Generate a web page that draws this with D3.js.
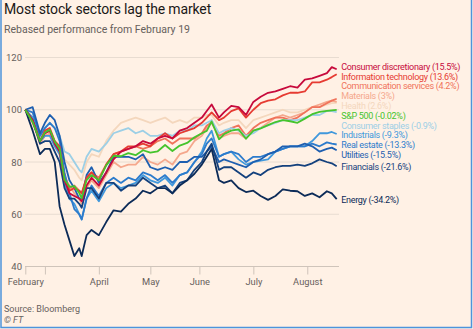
<!DOCTYPE html>
<html>
<head>
<meta charset="utf-8">
<script src="https://cdn.jsdelivr.net/npm/d3@7"></script>
<style>
  body { margin: 0; background: #fff1e5; }
  svg { display: block; font-family: Roboto, sans-serif; }
</style>
</head>
<body>
<svg id="chart"></svg>
<script>
// trading days since Feb 19 (0 = Feb 19, 8 = Mar 2, 30 = Apr 1, ... 127 = Aug 19)
const days = [0,3,6,8,10,12,14,16,18,20,22,23,25,27,30,33,36,39,42,45,48,51,54,57,60,63,66,69,72,74,76,79,81,84,87,90,93,96,99,102,105,108,111,114,117,120,123,125,127]

// rebased values, Feb 19 = 100
const consDisc = [100,96,88,91,92,87,84,73,68,67,66,65,71,74,71,76,81,84,85,86,88,87,89,90,89,92,93,95,97,99.5,102,97,99,101.5,101,98,103,105,106.5,107,108,109,108.5,111.5,112,113,114,116.3,115.5]
const infoTech = [100,96,88,92,93,88,86,73,69,70,69,68,74,76,73,79,83,84,86,86,87,86,89,91,89,91,92,93,95,97,99,96,97,99.5,100.5,97,100,102.5,103.5,104,105.5,106.5,106.5,107,110.5,110.5,111.5,112.5,113.6]
const commServ = [100,95,88,91,92,88,86,75,70,71,69,68,74,76,74,79,83,84,85,86,85,86,88,89,87,89,89,89,91,94,95,90,91,93,94,90,93,95,96,97,97,96,97,99,101,101,102.5,103.5,104.2]
const materials = [100,96,87,90,91,86,83,74,71,68,66,64,70,73,70,75,80,78,79,79,82,80,79,81,79,83,84,88,90,93,96,89,90,91,91,89,92,93,95,97,98,97,98,99,101,102,103,103.5,103]
const health = [100,97,90,93,95,93,90,81,79,77,74,73,80,83,82,88,92,95,96,97,96,95,96,97,95,96,95,97,97,98,98,94,95,96,96,93,96,97,98,99,100,99,99,100,101,101,102,102.5,102.6]
const spx = [100,95.3,88.0,91.3,92.4,87.8,85.1,73.3,70.5,70.8,68.1,66.1,73.1,75.0,73.0,78.7,82.4,82.2,83.4,82.6,84.5,83.6,84.1,86.5,84.2,86.3,87.3,89.5,91.0,91.9,95.5,88.7,90.6,92.0,92.5,88.9,92.0,92.9,94.1,95.3,96.0,95.6,95.0,96.6,98.3,99.2,99.6,99.8,99.98]
const staples = [100,97,89,93,95,93,90,84,83,80,77,76,82,85,84,87,91,92,93,91,92,90,90,91,90,92,92,94,94,95,96,91,92,93,92,90,91,93,94,95,96,96,96,97,98,98,99.5,99.5,99.1]
const industrials = [100,97,88,90,90,86,83,72,66,64,60,58,66,69,65,70,72,70,71,72,75,73,72,74,71,75,76,80,84,89,92,82,83,84,81,79,80,80.5,81,84,85,86,86,86,88,91,91,91.5,90.7]
const realEstate = [100,99,90,93,95,93,88,76,68,62,60,58,66,71,67,72,74,72,74,73,76,75,73,75,72,75,76,80,83,87,89,82,83,84,83,80,82,82,83,84,85,86,86,86,87,86,87.5,87,86.7]
const utilities = [100,101,91,95,98,96,90,80,73,70,66,66,75,78,72,76,82,82,82,81,83,78,77,78,77,80,80,82,82,84,86,80,81,80,79,78,80,81,83,84,86,86,86,87,86,84,85,85.5,84.5]
const financials = [100,96,87,88,88,84,80,70,66,66,64,62.5,70,70,66,72,72,69,71,71,74,72,70,71,68,72,73,77,80,84,87,77,78,78,76,74,76,75,77,78,78.5,78.5,79,78.5,79.5,81,80,79.5,78.4]
const energy = [100,92,83,85,85,80,63,56,50,44,47,44,52,54,52,57,61.5,61,64,66,69,68,70,70,68,71,73,75.5,79,82,85,73,72,73,70,68.5,69,67,65.5,67,69.5,69,68.8,67,68,66.5,68.8,68,65.8]

const labels = ["Consumer discretionary (15.5%)", "Information technology (13.6%)", "Communication services (4.2%)",
  "Materials (3%)", "Health (2.6%)", "S&P 500 (-0.02%)", "Consumer staples (-0.9%)", "Industrials (-9.3%)",
  "Real estate (-13.3%)", "Utilities (-15.5%)", "Financials (-21.6%)", "Energy (-34.2%)"]

const yTicks = [40, 60, 80, 100, 120]
const tickDays = [0, 8, 30, 51, 71, 93, 115]
const tickLabels = ["February", "", "April", "May", "June", "July", "August"]

const W = 473, H = 329

const series = [
  {values: consDisc, color: "#c70a3c"},
  {values: infoTech, color: "#e63b32"},
  {values: commServ, color: "#f0735b"},
  {values: materials, color: "#f5a78c"},
  {values: health, color: "#f4d7bd"},
  {values: spx, color: "#45c42d"},
  {values: staples, color: "#9ccfe6"},
  {values: industrials, color: "#4098dc"},
  {values: realEstate, color: "#2c7bcc"},
  {values: utilities, color: "#1e5fb0"},
  {values: financials, color: "#14417d"},
  {values: energy, color: "#0c2b58"}
].map((s, i) => ({...s, label: labels[i]}))

const svg = d3.select("#chart").attr("width", W).attr("height", H)

svg.append("rect").attr("width", W).attr("height", H).attr("fill", "#fff1e5")

var x = d3.scaleLinear().domain([0, 127]).range([25.3, 336.7])
var y = d3.scaleLinear().domain([40, 120]).range([266.5, 57.5])

// title block
svg.append("text").attr("x", 4).attr("y", 14)
  .style("font-size", "14px").style("letter-spacing", "-0.15px").attr("fill", "#1a1817")
  .text("Most stock sectors lag the market")
svg.append("text").attr("x", 4).attr("y", 33)
  .style("font-size", "10.5px").attr("fill", "#66605c")
  .text("Rebased performance from February 19")

// gridlines
svg.append("g").selectAll("line")
  .data(yTicks.slice(1))
  .enter().append("line")
  .attr("x1", 25).attr("x2", 339)
  .attr("y1", d => y(d)).attr("y2", d => y(d))
  .attr("stroke", "#e8dcd1").attr("stroke-width", 1)

// y axis labels
const yAxis = svg.append("g")
  .attr("transform", "translate(25,0)")
  .call(d3.axisLeft(y).tickValues(yTicks).tickSize(0).tickPadding(3))
yAxis.select(".domain").remove()
yAxis.selectAll("text").style("font-size", "9.5px").style("font-family", "Roboto, sans-serif").attr("fill", "#66605c")

// x axis
svg.append("line")
  .attr("x1", 25).attr("x2", 339)
  .attr("y1", y(40)).attr("y2", y(40))
  .attr("stroke", "#cfc4ba")

const xAxis = svg.append("g")
  .attr("transform", `translate(0,${y(40)})`)
  .call(d3.axisBottom(x).tickValues(tickDays).tickFormat((d, i) => tickLabels[i]).tickSize(8).tickPadding(4))
xAxis.select(".domain").remove()
xAxis.selectAll("line").attr("stroke", "#cfc4ba")
xAxis.selectAll("text").style("font-size", "9.3px").style("font-family", "Roboto, sans-serif").attr("fill", "#66605c")

// lines
const line = d3.line()
  .x((d, i) => x(days[i]))
  .y(d => y(d))

// draw order: S&P on top, reds above blues
const drawOrder = [4, 3, 2, 6, 7, 8, 9, 10, 11, 1, 0, 5]
svg.append("g").selectAll("path")
  .data(drawOrder.map(i => series[i]))
  .enter().append("path")
  .attr("d", d => line(d.values))
  .attr("fill", "none")
  .attr("stroke", d => d.color)
  .attr("stroke-width", 1.8)
  .attr("stroke-linejoin", "round")

// end labels, spread out so they don't collide
const gap = 9.8
let items = series.map(s => ({s: s, target: y(s.values[s.values.length - 1])}))
items.sort((a, b) => a.target - b.target)
let clusters = items.map(d => ({members: [d], top: d.target}))
let merged = true
while (merged) {
  merged = false
  for (let i = 1; i < clusters.length; i++) {
    const a = clusters[i - 1], b = clusters[i]
    if (a.top + a.members.length * gap > b.top) {
      const members = a.members.concat(b.members)
      const top = d3.mean(members, (m, k) => m.target - k * gap)
      clusters.splice(i - 1, 2, {members: members, top: top})
      merged = true
      break
    }
  }
}
clusters.forEach(c => c.members.forEach((m, k) => m.y = c.top + k * gap))

svg.append("g").selectAll("text")
  .data(items)
  .enter().append("text")
  .attr("x", x.range()[1] + 4.5)
  .attr("y", d => d.y + 1)
  .attr("dy", "0.35em")
  .style("font-size", "9px")
  .style("letter-spacing", "-0.3px")
  .attr("fill", d => d.s.color)
  .text(d => d.s.label)

// source
svg.append("text").attr("x", 4).attr("y", 311.5)
  .style("font-size", "9px").attr("fill", "#66605c")
  .text("Source: Bloomberg")
svg.append("text").attr("x", 4).attr("y", 323)
  .style("font-size", "9px").style("font-style", "italic").attr("fill", "#66605c")
  .text("© FT")

// frame
svg.append("path")
  .attr("d", `M1,0V${H - 1.5}H${W - 1.5}V0`)
  .attr("fill", "none")
  .attr("stroke", "#4d94dc")
  .attr("stroke-width", 1.5)
</script>
</body>
</html>
